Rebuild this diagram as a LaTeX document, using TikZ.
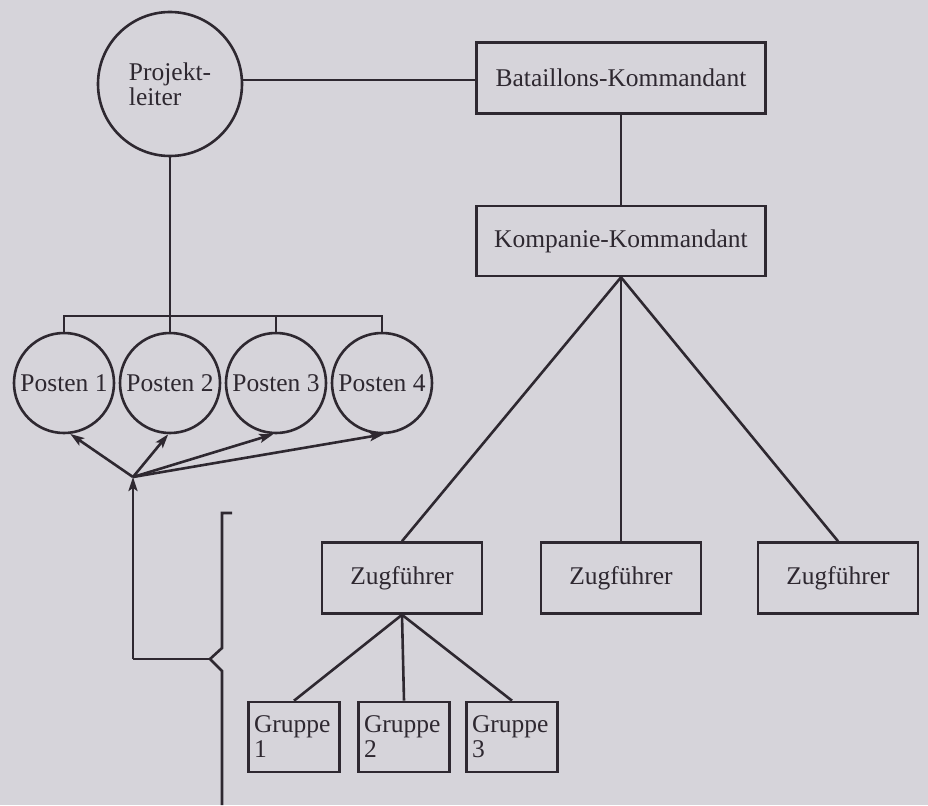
\documentclass[tikz,border=0pt]{standalone}
\usepackage{fontspec}
\setmainfont{Liberation Serif}
\usetikzlibrary{arrows.meta}
\definecolor{papier}{HTML}{D6D4DA}
\definecolor{tinte}{HTML}{2E2830}
\begin{document}
\begin{tikzpicture}[x = 1pt, y = -1pt, line width = 2.6pt, color = tinte,
        every node/.style = {font = \fontsize{25.5}{25}\selectfont},
        kreis/.style = {draw, circle, inner sep = 0pt},
        kasten/.style = {draw, rectangle, inner sep = 0pt},
        pfeil/.style = {-{Stealth[length = 14pt, width = 9pt, inset = 3pt]}}]
            % \draw[style = help lines] (0,0) grid[step = 50] (928,805);
            \fill[papier] (0,0) rectangle (928,805);
            \useasboundingbox (0,0) rectangle (928,805);

            \node[kreis, minimum size = 144pt, align = left] (leiter) at (170,84) {Projekt-\\leiter};
            \node[kasten, minimum width = 289pt, minimum height = 71pt] (bat) at (621,78) {Bataillons-Kommandant};
            \node[kasten, minimum width = 289pt, minimum height = 70pt] (kp) at (621,241) {Kompanie-Kommandant};

            \foreach \n/\x in {1/64, 2/170, 3/276, 4/382}
                \node[kreis, minimum size = 100pt] (p\n) at (\x,383) {Posten \n};

            \foreach \n/\x in {1/402, 2/621, 3/838}
                \node[kasten, minimum width = 160pt, minimum height = 71pt] (zug\n) at (\x,578) {Zugführer};

            \foreach \n/\x in {1/294, 2/404, 3/512}
                \node[kasten, minimum width = 91pt, minimum height = 70pt, text width = 80pt, align = left] (gr\n) at (\x,737) {Gruppe\\\n};

            % Verbindungen
            \draw (leiter.3) -- (leiter.3 -| bat.west);
            \draw (bat) -- (kp);
            \coordinate (schiene) at (0,316);
            \draw (leiter) -- (leiter |- schiene);
            \draw (p1.north) -- (p1.north |- schiene) -- (p4.north |- schiene) -- (p4.north);
            \foreach \n in {2,3}
                \draw (p\n.north) -- (p\n.north |- schiene);
            \foreach \n in {1,2,3}
                \draw (kp.south) -- (zug\n.north);
            \foreach \n in {1,2,3}
                \draw (zug1.south) -- (gr\n.north);

            % Pfeile und Klammer
            \coordinate (knoten) at (133,477);
            \coordinate (knick) at (133,659);
            \coordinate (klammer) at (210,659);
            \draw[pfeil] (knick) -- (knoten);
            \draw (knick) -- (klammer);
            \draw (232,513) -- (222,513) -- (222,648) -- (klammer) -- (222,671) -- (222,805);
            \draw[pfeil] (knoten) -- (p1.-83);
            \draw[pfeil] (knoten) -- (p2.-92);
            \draw[pfeil] (knoten) -- (p3.-93);
            \draw[pfeil] (knoten) -- (p4.-88);
        \end{tikzpicture}
\end{document}
